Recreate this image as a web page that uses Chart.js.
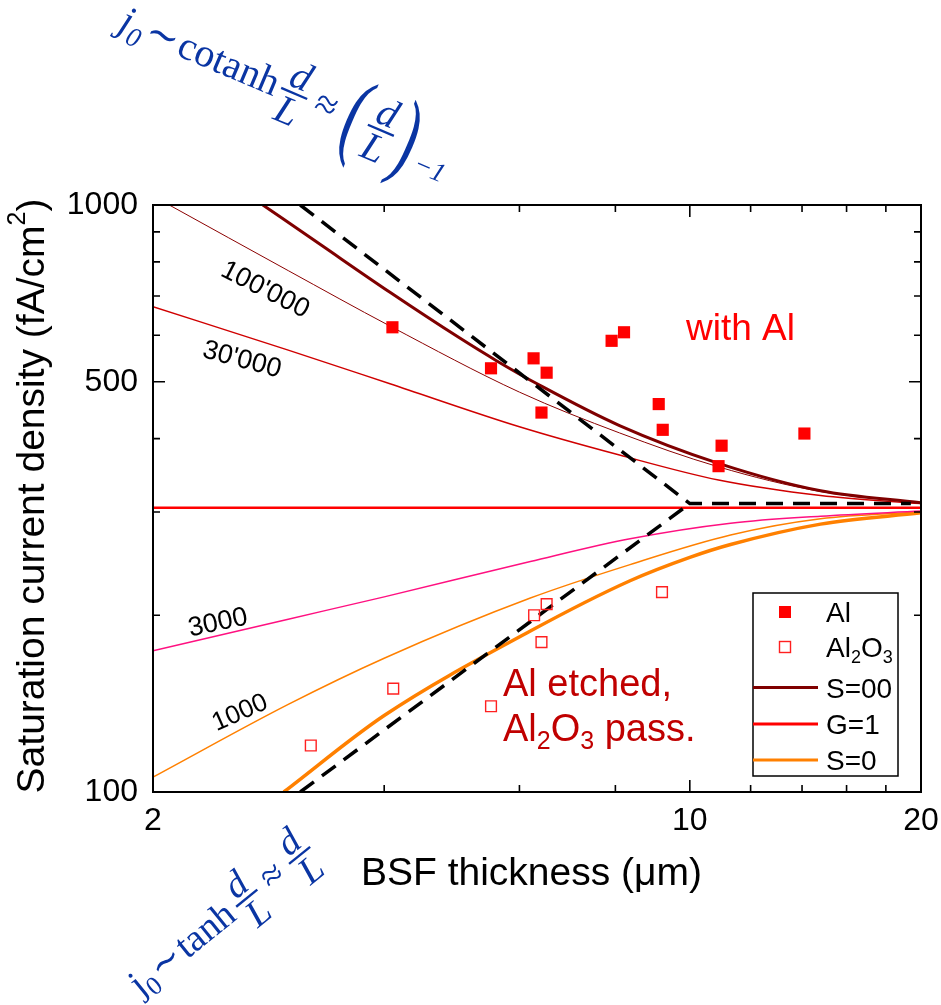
<!DOCTYPE html>
<html>
<head>
<meta charset="utf-8">
<script src="https://cdn.jsdelivr.net/npm/chart.js@4.4.1/dist/chart.umd.min.js"></script>
<style>
  body { margin: 0; background: #fff; }
  canvas { display: block; }
</style>
</head>
<body>
<canvas id="chart" width="941" height="1005"></canvas>
<script>
// measured points (BSF thickness in um, j0 in fA/cm2)
const alX = [4.10, 5.51, 6.26, 6.51, 6.41, 7.91, 8.21, 9.11, 9.22, 11.0, 10.9, 14.1];
const alY = [619, 527, 548, 518, 443, 587, 607, 458, 414, 389, 359, 408];
const al2o3X = [3.21, 4.11, 5.51, 6.27, 6.51, 6.41, 9.20];
const al2o3Y = [120, 150, 140, 200, 209, 180, 219];

// simulated curves
const sInfX = [2.78, 3.3, 4.07, 5.0, 5.6, 6.38, 8.1, 10.9, 14.8, 20];
const sInfY = [1000, 857, 710, 595, 543, 493, 421, 363, 326, 311];
const s100kX = [2.1, 3.0, 4.07, 6.0, 8.1, 10.9, 14.8, 20];
const s100kY = [1000, 773, 622, 480, 409, 358, 325, 311];
const s30kX = [2.0, 3.0, 4.07, 6.0, 8.1, 10.9, 14.8, 20];
const s30kY = [671, 566, 496, 419, 375, 340, 320, 310];
const g1X = [2, 20];
const g1Y = [305, 305];
const s3000X = [2, 3, 4, 6.2, 8.36, 11.3, 14.8, 20];
const s3000Y = [174, 197, 215, 247, 270, 287, 295, 301];
const s1000X = [2, 3, 4, 6.2, 8.36, 11.3, 14.8, 20];
const s1000Y = [106, 141, 169, 214, 244, 274, 292, 300];
const s0X = [2.96, 4, 6.2, 8.36, 10, 11.3, 14.8, 20];
const s0Y = [100, 135, 188, 229, 251, 264, 286, 299];

// asymptotes
const dashUpX = [3.11, 10, 19.4];
const dashUpY = [1000, 310, 310];
const dashLoX = [3.11, 10];
const dashLoY = [100, 310];

// axis ticks
const xTicks = [2, 4, 6, 8, 10, 12, 14, 16, 18, 20];
const xLabels = [2, 10, 20];
const yTicks = [100, 200, 300, 400, 500, 600, 700, 800, 900, 1000];
const yLabels = [100, 500, 1000];

const SANS = '"Liberation Sans", Arial, sans-serif';
const SERIF = '"Liberation Serif", "DejaVu Serif", serif';
const BLUE = '#0a35a3';

function pts(xs, ys) {
    return xs.map((x, i) => ({ x: x, y: ys[i] }));
}

function curve(label, xs, ys, color, width, order) {
    return {
        label: label,
        data: pts(xs, ys),
        showLine: true,
        borderColor: color,
        borderWidth: width,
        pointRadius: 0,
        cubicInterpolationMode: 'monotone',
        fill: false,
        order: order
    };
}

function dashed(label, xs, ys) {
    return {
        label: label,
        data: pts(xs, ys),
        showLine: true,
        borderColor: '#000',
        borderWidth: 3.5,
        borderDash: [17, 10],
        pointRadius: 0,
        tension: 0,
        fill: false,
        order: 2
    };
}

function rotText(ctx, text, x, y, deg, font, color) {
    ctx.save();
    ctx.translate(x, y);
    ctx.rotate(deg * Math.PI / 180);
    ctx.font = font;
    ctx.fillStyle = color;
    ctx.textAlign = 'center';
    ctx.textBaseline = 'middle';
    ctx.fillText(text, 0, 0);
    ctx.restore();
}

// fraction d/L with its left end at x, returns its width
function frac(ctx, x, num, den, size) {
    ctx.font = 'italic ' + size + 'px ' + SERIF;
    const bw = Math.max(ctx.measureText(num).width, ctx.measureText(den).width) + 6;
    const axis = -0.27 * size;
    ctx.textAlign = 'center';
    ctx.textBaseline = 'alphabetic';
    ctx.fillText(num, x + bw / 2, axis - 0.14 * size);
    ctx.fillText(den, x + bw / 2, axis + 0.8 * size);
    ctx.textAlign = 'left';
    ctx.fillRect(x, axis - 1.2, bw, 2.4);
    return bw;
}

function piece(ctx, x, y, text, font) {
    ctx.font = font;
    ctx.fillText(text, x, y);
    return ctx.measureText(text).width;
}

function paren(ctx, x, ch, size) {
    ctx.save();
    ctx.translate(x, 0.17 * size);
    ctx.scale(0.6, 1);
    ctx.font = size + 'px ' + SERIF;
    ctx.fillText(ch, 0, 0);
    const w = ctx.measureText(ch).width * 0.6;
    ctx.restore();
    return w;
}

function drawTopFormula(ctx) {
    const sz = 40;
    ctx.save();
    ctx.translate(117, 30);
    ctx.rotate(23 * Math.PI / 180);
    ctx.fillStyle = BLUE;
    ctx.textBaseline = 'alphabetic';
    ctx.textAlign = 'left';
    let x = 0;
    x += piece(ctx, x, 0, 'j', 'italic ' + sz + 'px ' + SERIF);
    x += piece(ctx, x, 9, '0', 'italic 27px ' + SERIF) + 3;
    x += piece(ctx, x, 0, '\u223C', sz + 'px ' + SERIF) + 2;
    x += piece(ctx, x, 0, 'cotanh', sz + 'px ' + SERIF) + 4;
    x += frac(ctx, x, 'd', 'L', sz) + 9;
    x += piece(ctx, x, 0, '\u2248', sz + 'px ' + SERIF) + 11;
    x += paren(ctx, x, '(', 100) + 4;
    x += frac(ctx, x, 'd', 'L', sz) + 4;
    x += paren(ctx, x, ')', 100);
    piece(ctx, x + 6, 14, '\u22121', 'italic 27px ' + SERIF);
    ctx.restore();
}

function drawBottomFormula(ctx) {
    const sz = 38;
    ctx.save();
    ctx.translate(141, 997);
    ctx.rotate(-39 * Math.PI / 180);
    ctx.fillStyle = BLUE;
    ctx.textBaseline = 'alphabetic';
    ctx.textAlign = 'left';
    let x = 0;
    x += piece(ctx, x, 0, 'j', sz + 'px ' + SERIF);
    x += piece(ctx, x, 8, '0', '26px ' + SERIF) + 2;
    x += piece(ctx, x, 0, '\u223C', sz + 'px ' + SERIF) + 2;
    x += piece(ctx, x, 0, 'tanh', sz + 'px ' + SERIF) + 6;
    x += frac(ctx, x, 'd', 'L', sz) + 10;
    x += piece(ctx, x, 0, '\u2248', sz + 'px ' + SERIF) + 10;
    frac(ctx, x, 'd', 'L', sz);
    ctx.restore();
}

// text with subscripts: parts = [[text, isSub], ...]
function subText(ctx, parts, x, y, size, color) {
    ctx.save();
    ctx.fillStyle = color;
    ctx.textAlign = 'left';
    ctx.textBaseline = 'alphabetic';
    parts.forEach(p => {
        if (p[1]) {
            ctx.font = Math.round(size * 0.66) + 'px ' + SANS;
            ctx.fillText(p[0], x, y + size * 0.2);
        } else {
            ctx.font = size + 'px ' + SANS;
            ctx.fillText(p[0], x, y);
        }
        x += ctx.measureText(p[0]).width;
    });
    ctx.restore();
}

const framePlugin = {
    id: 'frame',
    afterDatasetsDraw(chart) {
        const ctx = chart.ctx;
        const a = chart.chartArea;
        const xs = chart.scales.x, ys = chart.scales.y;
        ctx.save();
        ctx.strokeStyle = '#000';
        ctx.lineWidth = 2;
        ctx.strokeRect(a.left, a.top, a.right - a.left, a.bottom - a.top);
        ctx.lineWidth = 1.6;
        ctx.beginPath();
        xTicks.forEach(v => {
            const p = xs.getPixelForValue(v);
            const len = xLabels.includes(v) ? 12 : 7;
            ctx.moveTo(p, a.bottom); ctx.lineTo(p, a.bottom - len);
            ctx.moveTo(p, a.top); ctx.lineTo(p, a.top + len);
        });
        yTicks.forEach(v => {
            const p = ys.getPixelForValue(v);
            const len = yLabels.includes(v) ? 12 : 7;
            ctx.moveTo(a.left, p); ctx.lineTo(a.left + len, p);
            ctx.moveTo(a.right, p); ctx.lineTo(a.right - len, p);
        });
        ctx.stroke();
        ctx.restore();
    },
    afterDraw(chart) {
        const ctx = chart.ctx;

        // axis titles
        ctx.save();
        ctx.translate(33, 496);
        ctx.rotate(-Math.PI / 2);
        ctx.fillStyle = '#000';
        ctx.textBaseline = 'middle';
        ctx.font = '39px ' + SANS;
        const t1 = 'Saturation current density (fA/cm';
        const w1 = ctx.measureText(t1).width;
        ctx.font = '25px ' + SANS;
        const w2 = ctx.measureText('2').width;
        ctx.font = '39px ' + SANS;
        const w3 = ctx.measureText(')').width;
        let x0 = -(w1 + w2 + w3) / 2;
        ctx.textAlign = 'left';
        ctx.fillText(t1, x0, 0);
        ctx.font = '25px ' + SANS;
        ctx.fillText('2', x0 + w1, -15);
        ctx.font = '39px ' + SANS;
        ctx.fillText(')', x0 + w1 + w2, 0);
        ctx.restore();

        ctx.save();
        ctx.fillStyle = '#000';
        ctx.font = '39px ' + SANS;
        ctx.textAlign = 'left';
        ctx.textBaseline = 'alphabetic';
        ctx.fillText('BSF thickness (\u03BCm)', 361, 885);
        ctx.restore();

        // curve labels
        rotText(ctx, "100'000", 265, 290, 27, '27px ' + SANS, '#000');
        rotText(ctx, "30'000", 242, 360, 15, '27px ' + SANS, '#000');
        rotText(ctx, '3000', 218, 623, -12, '27px ' + SANS, '#000');
        rotText(ctx, '1000', 240, 713, -24, '26px ' + SANS, '#000');

        // region labels
        subText(ctx, [['with Al', false]], 686, 340, 37, '#ff0000');
        subText(ctx, [['Al etched,', false]], 503, 696, 38, '#c00000');
        subText(ctx, [['Al', false], ['2', true], ['O', false], ['3', true], [' pass.', false]], 503, 741, 38, '#c00000');

        // legend
        ctx.save();
        ctx.fillStyle = '#fff';
        ctx.fillRect(753, 593, 145, 183);
        ctx.strokeStyle = '#000';
        ctx.lineWidth = 1.5;
        ctx.strokeRect(753, 593, 145, 183);
        ctx.fillStyle = '#ff0000';
        ctx.fillRect(779, 606, 12, 12);
        ctx.strokeStyle = '#ff2020';
        ctx.lineWidth = 1.4;
        ctx.strokeRect(779.5, 641.5, 11, 11);
        const legLines = [[687.5, '#7f0000'], [724, '#ff0000'], [760, '#ff8000']];
        ctx.lineWidth = 3;
        legLines.forEach(l => {
            ctx.strokeStyle = l[1];
            ctx.beginPath();
            ctx.moveTo(753, l[0]);
            ctx.lineTo(818, l[0]);
            ctx.stroke();
        });
        ctx.restore();
        subText(ctx, [['Al', false]], 826, 622, 28, '#000');
        subText(ctx, [['Al', false], ['2', true], ['O', false], ['3', true]], 826, 657, 28, '#000');
        subText(ctx, [['S=00', false]], 826, 698, 28, '#000');
        subText(ctx, [['G=1', false]], 826, 734, 28, '#000');
        subText(ctx, [['S=0', false]], 826, 770, 28, '#000');

        drawTopFormula(ctx);
        drawBottomFormula(ctx);
    }
};

new Chart(document.getElementById('chart'), {
    type: 'scatter',
    data: {
        datasets: [
            {
                label: 'Al',
                data: pts(alX, alY),
                pointStyle: 'rect',
                pointRadius: 8.6,
                backgroundColor: '#ff0000',
                borderColor: '#ff0000',
                borderWidth: 0,
                order: 0
            },
            {
                label: 'Al2O3',
                data: pts(al2o3X, al2o3Y),
                pointStyle: 'rect',
                pointRadius: 7.6,
                backgroundColor: 'rgba(255,255,255,0)',
                borderColor: '#ff2020',
                borderWidth: 1.4,
                order: 1
            },
            dashed('dash up', dashUpX, dashUpY),
            dashed('dash low', dashLoX, dashLoY),
            curve('S=00', sInfX, sInfY, '#7f0000', 3, 3),
            curve('100000', s100kX, s100kY, '#8b0000', 1, 4),
            curve('30000', s30kX, s30kY, '#d00000', 1.5, 5),
            curve('G=1', g1X, g1Y, '#ff0000', 2.5, 6),
            curve('3000', s3000X, s3000Y, '#ff1080', 1.5, 7),
            curve('1000', s1000X, s1000Y, '#ff8000', 1.5, 8),
            curve('S=0', s0X, s0Y, '#ff8000', 3.5, 9)
        ]
    },
    options: {
        responsive: false,
        animation: false,
        devicePixelRatio: 1,
        layout: { padding: { left: 0, right: 20, top: 205, bottom: 0 } },
        plugins: {
            legend: { display: false },
            tooltip: { enabled: false }
        },
        scales: {
            x: {
                type: 'logarithmic',
                min: 2,
                max: 20,
                grid: { display: false, drawTicks: false },
                border: { display: false },
                afterBuildTicks: s => { s.ticks = xTicks.map(v => ({ value: v })); },
                afterFit: s => { s.height = 213; s.paddingLeft = 0; s.paddingRight = 0; },
                ticks: {
                    autoSkip: false,
                    maxRotation: 0,
                    padding: 10,
                    color: '#000',
                    font: { family: SANS, size: 32 },
                    callback: v => xLabels.includes(v) ? String(v) : ''
                }
            },
            y: {
                type: 'logarithmic',
                min: 100,
                max: 1000,
                grid: { display: false, drawTicks: false },
                border: { display: false },
                afterBuildTicks: s => { s.ticks = yTicks.map(v => ({ value: v })); },
                afterFit: s => { s.width = 153; s.paddingTop = 0; s.paddingBottom = 0; },
                ticks: {
                    autoSkip: false,
                    padding: 15,
                    color: '#000',
                    font: { family: SANS, size: 32 },
                    callback: v => yLabels.includes(v) ? String(v) : ''
                }
            }
        }
    },
    plugins: [framePlugin]
});
</script>
</body>
</html>
